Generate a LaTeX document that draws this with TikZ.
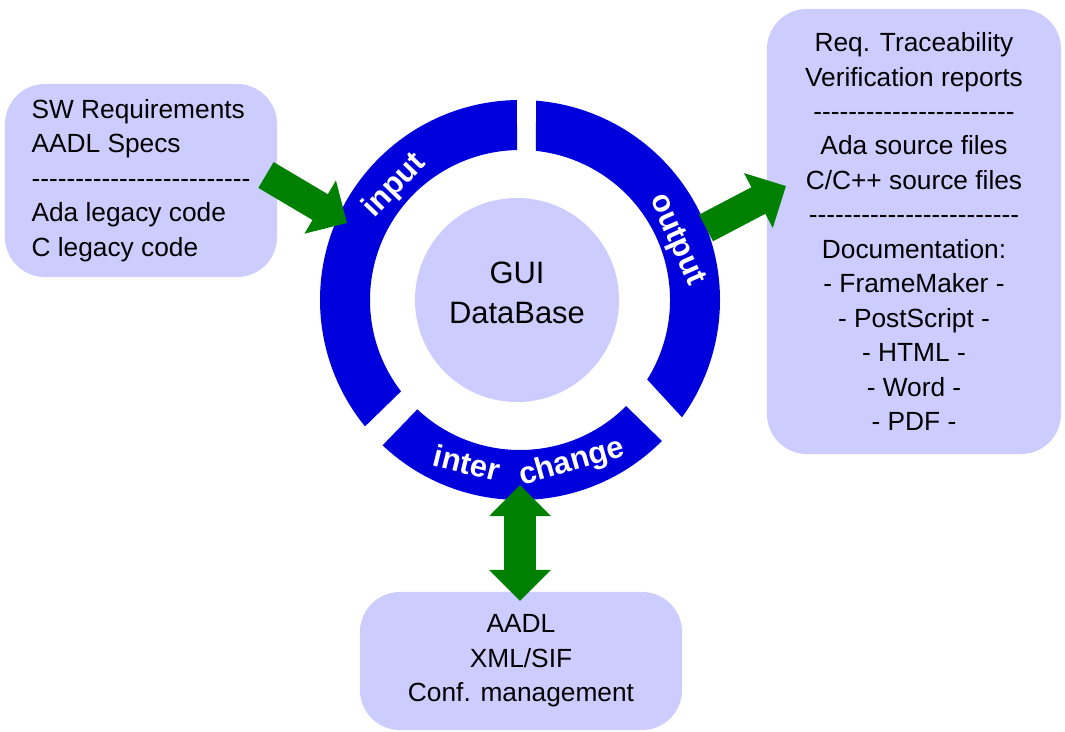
\documentclass[tikz,border=0pt]{standalone}
\usepackage{fontspec}
\setmainfont{Liberation Sans}
\usetikzlibrary{arrows.meta}
\definecolor{boxfill}{RGB}{204,204,255}
\definecolor{ringblue}{RGB}{0,0,221}
\definecolor{flowgreen}{RGB}{0,128,0}
\newcommand{\dashrow}[1]{\foreach \d in {1,...,#1}{-\kern0pt}}

\begin{document}
\begin{tikzpicture}[x=0.025cm, y=0.025cm,
    infobox/.style={fill=boxfill, rounded corners=1cm, inner sep=0pt,
      font=\fontsize{18.7}{24.5}\selectfont},
    ringtext/.style={text=white, inner sep=0pt,
      font=\fontsize{22}{22}\selectfont\bfseries},
    flow/.style={flowgreen, line width=0.75cm,
      -{Triangle[width=1.5cm,length=0.78cm]}},
    flowboth/.style={flowgreen, line width=0.8cm,
      {Triangle[width=1.5cm,length=0.78cm]}-{Triangle[width=1.5cm,length=0.78cm]}}]
        \useasboundingbox (0,0) rectangle (1065,-731);
        %boxes
        \node[infobox, minimum width=6.8cm, minimum height=4.825cm, align=left]
              (inputs) at (141,-180.5) {SW Requirements\\AADL Specs\\\dashrow{25}\\
              Ada legacy code\\C legacy code};
        \node[infobox, minimum width=7.35cm, minimum height=11.125cm, align=center]
              (outputs) at (914,-231.5) {Req. Traceability\\Verification reports\\
              \dashrow{23}\\Ada source files\\C/C++ source files\\\dashrow{24}\\
              Documentation:\\- FrameMaker -\\- PostScript -\\- HTML -\\- Word -\\- PDF -};
        \node[infobox, minimum width=8.05cm, minimum height=3.45cm, align=center]
              (exchange) at (521,-661) {AADL\\XML/SIF\\Conf. management};
        %ring segments
        \begin{scope}[shift={(520,-300)}]
          \fill[ringblue] (90.9:200) arc (90.9:219.2:200)
                -- (217.5:150) arc (217.5:91.1:150) -- cycle;
          \fill[ringblue] (85.4:200) arc (85.4:-35.9:200)
                -- (-32:150) arc (-32:83.9:150) -- cycle;
          \fill[ringblue] (226.6:200) arc (226.6:315.2:200)
                -- (315:150) arc (315:226.8:150) -- cycle;
        \end{scope}
        \node[ringtext, rotate=46] (inlabel) at (395,-186) {input};
        \node[ringtext, rotate=-66] (outlabel) at (676,-240) {output};
        \node[ringtext, rotate=-14] (interlabel) at (467,-463) {inter};
        \node[ringtext, rotate=16] (changelabel) at (572,-463) {change};
        %database
        \node[circle, fill=boxfill, minimum size=5.1cm, inner sep=0pt] (hub) at (517,-300) {};
        \node[font=\fontsize{22}{28.5}\selectfont, align=center] (hubtext)
              at (517,-293) {GUI\\DataBase};
        %flows
        \coordinate (intail) at (266,-175);
        \coordinate (intip) at (347,-223);
        \coordinate (outtail) at (706,-228);
        \coordinate (outtip) at (786,-186);
        \coordinate (xtop) at (520,-485);
        \coordinate (xbot) at (520,-601);
        \draw[flow] (intail) -- (intip);
        \draw[flow] (outtail) -- (outtip);
        \draw[flowboth] (xtop) -- (xbot);
\end{tikzpicture}
\end{document}
